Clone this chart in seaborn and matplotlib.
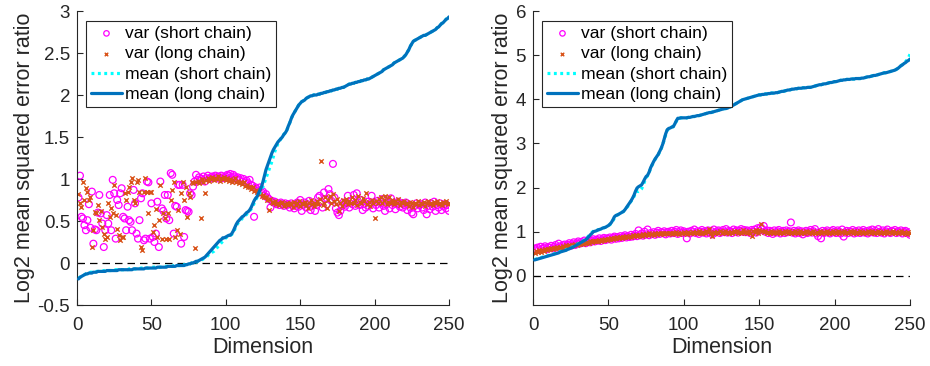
import numpy as np
import pandas as pd
import matplotlib
matplotlib.use("Agg")
import matplotlib.pyplot as plt
import seaborn as sns

# ---------------- data ----------------
dims = list(range(1, 251))

# left panel
left_var_short = [
    0.78, 1.04, 0.55, 0.53, 0.45, 0.39, 0.51, 0.70, 0.42, 0.85,
    0.23, 0.40, 0.39, 0.60, 0.81, 0.59, 0.47, 0.19, 0.39, 0.57,
    0.47, 0.81, 0.39, 0.99, 0.83, 0.29, 0.75, 0.69, 0.83, 0.89,
    0.55, 0.53, 0.39, 0.67, 0.51, 0.49, 0.39, 0.87, 0.71, 0.35,
    0.29, 0.51, 0.77, 0.83, 0.27, 0.29, 0.97, 0.96, 0.29, 0.71,
    0.31, 0.25, 0.35, 0.73, 0.19, 0.97, 0.65, 0.62, 0.81, 0.53,
    0.81, 0.51, 1.07, 1.05, 0.35, 0.68, 0.67, 0.93, 0.93, 0.23,
    0.93, 0.31, 0.63, 0.62, 0.61, 0.83, 0.81, 0.91, 0.97, 1.05,
    0.99, 1.02, 0.98, 1.00, 1.03, 0.97, 1.01, 1.04, 1.00, 1.02,
    1.03, 1.01, 1.04, 1.02, 1.03, 1.00, 1.04, 1.02, 1.01, 1.03,
    1.05, 1.04, 1.06, 1.02, 1.05, 1.03, 1.00, 1.02, 0.99, 1.01,
    0.97, 1.00, 0.96, 0.98, 0.95, 0.99, 0.93, 0.92, 0.55, 0.90,
    0.88, 0.86, 0.90, 0.84, 0.85, 0.80, 0.82, 0.78, 0.76, 0.66,
    0.74, 0.72, 0.73, 0.70, 0.71, 0.69, 0.72, 0.70, 0.68, 0.71,
    0.69, 0.70, 0.66, 0.71, 0.68, 0.65, 0.70, 0.72, 0.67, 0.75,
    0.62, 0.69, 0.72, 0.66, 0.70, 0.74, 0.63, 0.68, 0.71, 0.62,
    0.69, 0.78, 0.80, 0.73, 0.66, 0.84, 0.76, 0.70, 0.88, 0.82,
    0.74, 1.18, 0.78, 0.65, 0.60, 0.57, 0.62, 0.68, 0.72, 0.67,
    0.71, 0.80, 0.66, 0.74, 0.70, 0.81, 0.68, 0.83, 0.72, 0.69,
    0.75, 0.63, 0.70, 0.66, 0.73, 0.68, 0.71, 0.80, 0.65, 0.72,
    0.69, 0.74, 0.66, 0.71, 0.76, 0.68, 0.62, 0.70, 0.72, 0.65,
    0.77, 0.69, 0.72, 0.64, 0.70, 0.73, 0.67, 0.71, 0.66, 0.69,
    0.72, 0.63, 0.70, 0.66, 0.60, 0.58, 0.68, 0.71, 0.65, 0.69,
    0.70, 0.66, 0.63, 0.72, 0.58, 0.68, 0.64, 0.71, 0.67, 0.73,
    0.62, 0.69, 0.66, 0.71, 0.63, 0.68, 0.70, 0.65, 0.69, 0.62,
]
left_var_long = [
    0.82, 0.71, 0.67, 0.97, 0.75, 0.89, 0.85, 0.75, 0.79, 0.19,
    0.39, 0.61, 0.59, 0.69, 0.51, 0.62, 0.43, 0.35, 0.28, 0.31,
    0.71, 0.55, 0.65, 0.59, 0.93, 0.57, 0.41, 0.33, 0.27, 0.31,
    0.31, 0.83, 0.75, 0.85, 0.90, 0.97, 1.01, 0.75, 0.71, 0.96,
    0.99, 0.85, 0.19, 0.15, 0.85, 1.01, 0.85, 0.60, 0.85, 0.85,
    0.37, 0.45, 0.64, 0.31, 0.51, 0.93, 0.29, 0.59, 0.53, 0.29,
    0.59, 0.29, 0.75, 0.87, 0.97, 0.31, 0.39, 0.63, 0.35, 0.83,
    0.97, 0.75, 0.91, 0.55, 0.83, 0.78, 0.97, 0.95, 0.18, 0.96,
    0.98, 0.95, 0.54, 1.00, 0.97, 0.83, 0.99, 1.01, 0.98, 1.00,
    1.02, 0.99, 1.01, 1.00, 1.03, 0.98, 1.01, 1.00, 1.02, 0.99,
    1.01, 0.98, 1.00, 0.97, 0.99, 1.01, 0.96, 0.98, 0.95, 0.97,
    0.94, 0.96, 0.92, 0.93, 0.90, 0.91, 0.88, 0.90, 0.86, 0.87,
    0.84, 0.86, 0.82, 0.80, 0.81, 0.78, 0.79, 0.75, 0.63, 0.76,
    0.73, 0.71, 0.74, 0.70, 0.72, 0.69, 0.71, 0.73, 0.68, 0.70,
    0.72, 0.69, 0.71, 0.70, 0.67, 0.73, 0.69, 0.71, 0.74, 0.68,
    0.72, 0.70, 0.73, 0.69, 0.66, 0.71, 0.75, 0.70, 0.68, 0.72,
    0.74, 0.70, 0.76, 1.22, 0.69, 0.72, 0.78, 0.66, 0.75, 0.80,
    0.71, 0.82, 0.74, 0.70, 0.76, 0.62, 0.72, 0.68, 0.75, 0.73,
    0.76, 0.70, 0.74, 0.71, 0.78, 0.72, 0.75, 0.69, 0.80, 0.73,
    0.71, 0.77, 0.74, 0.83, 0.70, 0.73, 0.68, 0.75, 0.72, 0.54,
    0.74, 0.71, 0.76, 0.78, 0.72, 0.75, 0.80, 0.70, 0.73, 0.78,
    0.72, 0.75, 0.70, 0.74, 0.71, 0.76, 0.69, 0.73, 0.71, 0.74,
    0.70, 0.72, 0.68, 0.73, 0.71, 0.67, 0.72, 0.70, 0.74, 0.69,
    0.72, 0.70, 0.73, 0.68, 0.71, 0.74, 0.70, 0.72, 0.69, 0.73,
    0.71, 0.74, 0.70, 0.72, 0.69, 0.73, 0.71, 0.74, 0.70, 0.72,
]
left_mean_short = [
    -0.18, -0.17, -0.16, -0.15, -0.14, -0.13, -0.12, -0.12, -0.11, -0.11,
    -0.11, -0.11, -0.10, -0.10, -0.10, -0.10, -0.10, -0.09, -0.09, -0.09,
    -0.09, -0.09, -0.09, -0.09, -0.09, -0.08, -0.08, -0.08, -0.08, -0.08,
    -0.08, -0.08, -0.08, -0.08, -0.07, -0.07, -0.07, -0.07, -0.07, -0.07,
    -0.07, -0.07, -0.06, -0.06, -0.06, -0.06, -0.06, -0.06, -0.05, -0.05,
    -0.05, -0.05, -0.05, -0.05, -0.05, -0.05, -0.05, -0.04, -0.04, -0.04,
    -0.04, -0.04, -0.04, -0.04, -0.03, -0.03, -0.03, -0.03, -0.03, -0.03,
    -0.03, -0.02, -0.02, -0.02, -0.01, -0.01, 0.00, 0.00, 0.01, 0.01,
    0.02, 0.03, 0.03, 0.04, 0.05, 0.06, 0.07, 0.09, 0.11, 0.12,
    0.13, 0.14, 0.16, 0.18, 0.20, 0.22, 0.24, 0.26, 0.28, 0.30,
    0.31, 0.32, 0.33, 0.34, 0.36, 0.40, 0.44, 0.47, 0.49, 0.51,
    0.53, 0.55, 0.56, 0.58, 0.60, 0.62, 0.64, 0.67, 0.71, 0.75,
    0.78, 0.81, 0.84, 0.87, 0.91, 0.96, 1.01, 1.06, 1.11, 1.16,
    1.21, 1.27, 1.33, 1.38, 1.42, 1.45, 1.48, 1.50, 1.53, 1.55,
    1.58, 1.63, 1.67, 1.72, 1.76, 1.79, 1.82, 1.85, 1.88, 1.90,
    1.92, 1.93, 1.94, 1.96, 1.97, 1.98, 1.99, 1.99, 2.00, 2.00,
    2.00, 2.01, 2.01, 2.02, 2.02, 2.03, 2.03, 2.04, 2.04, 2.05,
    2.05, 2.06, 2.06, 2.07, 2.07, 2.08, 2.08, 2.09, 2.09, 2.10,
    2.11, 2.12, 2.13, 2.13, 2.14, 2.14, 2.15, 2.15, 2.16, 2.16,
    2.17, 2.17, 2.18, 2.18, 2.19, 2.19, 2.20, 2.21, 2.22, 2.23,
    2.24, 2.25, 2.26, 2.27, 2.28, 2.30, 2.31, 2.32, 2.33, 2.34,
    2.35, 2.36, 2.38, 2.39, 2.40, 2.41, 2.42, 2.43, 2.44, 2.46,
    2.48, 2.51, 2.54, 2.58, 2.61, 2.64, 2.65, 2.66, 2.67, 2.68,
    2.69, 2.70, 2.71, 2.71, 2.72, 2.73, 2.74, 2.75, 2.76, 2.77,
    2.78, 2.80, 2.81, 2.83, 2.85, 2.86, 2.88, 2.90, 2.92, 2.94,
]
left_mean_long = [
    -0.19, -0.17, -0.16, -0.15, -0.14, -0.13, -0.13, -0.12, -0.12, -0.12,
    -0.11, -0.11, -0.11, -0.10, -0.10, -0.10, -0.10, -0.10, -0.10, -0.09,
    -0.09, -0.09, -0.09, -0.09, -0.09, -0.09, -0.09, -0.08, -0.08, -0.08,
    -0.08, -0.08, -0.08, -0.08, -0.08, -0.08, -0.08, -0.07, -0.07, -0.07,
    -0.07, -0.07, -0.07, -0.07, -0.07, -0.06, -0.06, -0.06, -0.06, -0.06,
    -0.06, -0.06, -0.06, -0.05, -0.05, -0.05, -0.05, -0.05, -0.05, -0.05,
    -0.04, -0.04, -0.04, -0.04, -0.04, -0.04, -0.03, -0.03, -0.03, -0.03,
    -0.03, -0.03, -0.02, -0.02, -0.01, -0.01, 0.00, 0.00, 0.01, 0.02,
    0.02, 0.03, 0.04, 0.05, 0.06, 0.07, 0.09, 0.11, 0.13, 0.15,
    0.17, 0.19, 0.21, 0.23, 0.25, 0.27, 0.28, 0.30, 0.30, 0.31,
    0.32, 0.33, 0.33, 0.35, 0.38, 0.42, 0.46, 0.49, 0.51, 0.53,
    0.55, 0.56, 0.58, 0.60, 0.61, 0.63, 0.66, 0.70, 0.74, 0.77,
    0.79, 0.83, 0.87, 0.91, 0.97, 1.04, 1.11, 1.16, 1.21, 1.26,
    1.31, 1.35, 1.38, 1.41, 1.44, 1.46, 1.48, 1.50, 1.53, 1.55,
    1.58, 1.63, 1.67, 1.72, 1.76, 1.79, 1.82, 1.85, 1.88, 1.90,
    1.92, 1.93, 1.94, 1.96, 1.97, 1.98, 1.99, 1.99, 2.00, 2.00,
    2.00, 2.01, 2.01, 2.02, 2.02, 2.03, 2.03, 2.04, 2.04, 2.05,
    2.05, 2.06, 2.06, 2.07, 2.07, 2.08, 2.08, 2.09, 2.09, 2.10,
    2.11, 2.12, 2.13, 2.13, 2.14, 2.14, 2.15, 2.15, 2.16, 2.16,
    2.17, 2.17, 2.18, 2.18, 2.19, 2.19, 2.20, 2.21, 2.22, 2.23,
    2.24, 2.25, 2.26, 2.27, 2.28, 2.30, 2.31, 2.32, 2.33, 2.34,
    2.35, 2.36, 2.38, 2.39, 2.40, 2.41, 2.42, 2.43, 2.44, 2.46,
    2.48, 2.51, 2.54, 2.58, 2.61, 2.64, 2.65, 2.66, 2.67, 2.68,
    2.69, 2.70, 2.71, 2.71, 2.72, 2.73, 2.74, 2.75, 2.76, 2.77,
    2.78, 2.80, 2.81, 2.83, 2.85, 2.86, 2.88, 2.90, 2.91, 2.93,
]

# right panel
right_var_short = [
    0.62, 0.58, 0.64, 0.60, 0.66, 0.61, 0.63, 0.67, 0.60, 0.65,
    0.64, 0.68, 0.62, 0.66, 0.70, 0.64, 0.73, 0.67, 0.65, 0.69,
    0.71, 0.66, 0.70, 0.74, 0.68, 0.72, 0.76, 0.70, 0.74, 0.78,
    0.73, 0.77, 0.75, 0.80, 0.74, 0.78, 0.82, 0.76, 0.80, 0.83,
    0.78, 0.82, 0.80, 0.85, 0.79, 0.83, 0.86, 0.81, 0.85, 0.83,
    0.87, 0.82, 0.86, 0.89, 0.84, 0.88, 0.85, 0.90, 0.86, 0.89,
    0.92, 0.87, 0.90, 0.88, 0.93, 0.89, 0.91, 0.95, 0.90, 1.03,
    0.92, 0.96, 0.91, 1.00, 0.94, 1.05, 0.92, 0.97, 0.95, 0.99,
    0.93, 0.98, 1.02, 0.95, 0.99, 0.97, 1.01, 0.94, 0.99, 1.00,
    0.96, 1.02, 0.97, 1.00, 1.04, 0.95, 0.99, 1.03, 0.97, 1.01,
    0.98, 0.85, 1.00, 0.96, 1.02, 0.99, 1.05, 0.97, 1.01, 0.95,
    1.00, 1.04, 0.98, 1.01, 0.96, 1.03, 0.99, 1.02, 0.94, 1.05,
    0.98, 1.01, 1.03, 0.97, 1.00, 1.04, 0.99, 1.06, 0.98, 1.02,
    1.01, 0.97, 1.05, 1.00, 1.03, 0.98, 1.02, 1.06, 1.00, 1.04,
    0.99, 1.03, 1.01, 0.97, 1.04, 1.00, 1.05, 0.98, 1.08, 1.02,
    1.10, 1.06, 1.13, 1.00, 1.03, 0.97, 1.02, 1.00, 0.95, 1.03,
    0.98, 1.01, 1.04, 0.96, 1.00, 1.02, 0.97, 1.03, 0.99, 1.01,
    1.21, 0.98, 1.02, 0.96, 1.00, 1.03, 0.97, 1.01, 0.94, 0.99,
    1.02, 0.97, 1.00, 1.04, 0.98, 1.01, 1.06, 0.96, 0.90, 0.99,
    0.85, 1.02, 0.97, 1.00, 1.03, 0.98, 0.96, 1.01, 1.04, 0.99,
    0.97, 1.03, 1.00, 0.96, 1.05, 0.89, 0.98, 1.02, 0.97, 1.01,
    0.99, 1.04, 0.96, 1.01, 0.98, 1.03, 0.97, 1.00, 1.04, 0.98,
    1.01, 0.96, 1.03, 0.99, 1.05, 0.98, 1.02, 0.97, 1.06, 1.00,
    0.98, 1.03, 0.96, 1.01, 1.05, 0.99, 0.97, 1.02, 1.00, 1.04,
    0.97, 1.01, 0.99, 1.03, 0.96, 1.00, 1.02, 0.97, 0.99, 0.93,
]
right_var_long = [
    0.52, 0.56, 0.54, 0.58, 0.55, 0.59, 0.57, 0.60, 0.58, 0.61,
    0.60, 0.63, 0.61, 0.64, 0.62, 0.65, 0.63, 0.66, 0.64, 0.67,
    0.66, 0.69, 0.67, 0.70, 0.68, 0.71, 0.69, 0.72, 0.70, 0.73,
    0.72, 0.74, 0.73, 0.75, 0.74, 0.77, 0.75, 0.78, 0.76, 0.79,
    0.78, 0.80, 0.79, 0.81, 0.80, 0.82, 0.81, 0.83, 0.82, 0.84,
    0.83, 0.85, 0.84, 0.86, 0.85, 0.87, 0.86, 0.88, 0.85, 0.89,
    0.87, 0.90, 0.88, 0.91, 0.89, 0.92, 0.90, 0.93, 0.91, 0.92,
    0.93, 0.91, 0.94, 0.92, 0.95, 0.93, 0.96, 0.94, 0.95, 0.93,
    0.96, 0.94, 0.97, 0.95, 0.96, 0.98, 0.95, 0.97, 0.96, 0.98,
    0.97, 0.95, 0.98, 0.96, 0.99, 0.97, 0.95, 0.98, 0.96, 0.99,
    0.97, 0.95, 0.99, 0.96, 0.98, 1.00, 0.96, 0.99, 0.97, 1.01,
    0.98, 0.96, 1.00, 0.97, 1.02, 0.99, 1.06, 0.97, 0.90, 0.99,
    0.97, 1.00, 0.98, 1.01, 0.96, 0.99, 1.02, 0.97, 1.00, 0.98,
    1.00, 0.97, 1.01, 0.99, 1.02, 0.98, 1.00, 0.97, 1.03, 0.99,
    1.00, 0.98, 1.02, 0.97, 0.90, 1.01, 0.99, 1.03, 0.98, 1.05,
    1.17, 1.02, 0.99, 1.01, 0.97, 1.00, 0.98, 1.02, 0.96, 1.00,
    0.99, 0.97, 1.01, 0.98, 1.00, 0.96, 1.02, 0.99, 0.97, 1.01,
    0.98, 1.00, 0.96, 1.02, 0.99, 0.97, 1.01, 0.98, 1.00, 0.96,
    1.02, 0.99, 0.97, 1.00, 0.98, 1.01, 0.96, 1.00, 0.98, 1.02,
    0.97, 1.00, 0.99, 0.96, 1.01, 0.98, 1.00, 0.97, 1.02, 0.99,
    0.98, 1.01, 0.96, 1.00, 0.99, 1.02, 0.97, 1.00, 0.98, 1.01,
    0.99, 0.96, 1.01, 0.98, 1.00, 0.97, 1.02, 0.99, 0.98, 1.00,
    0.96, 1.01, 0.99, 0.97, 1.02, 0.98, 1.00, 0.96, 1.01, 0.99,
    0.97, 1.00, 0.98, 1.01, 0.96, 1.00, 0.99, 0.97, 1.02, 0.98,
    1.00, 0.96, 0.99, 1.01, 0.97, 1.00, 0.98, 0.95, 0.99, 0.96,
]
right_mean_short = [
    0.37, 0.38, 0.39, 0.40, 0.41, 0.42, 0.43, 0.44, 0.45, 0.46,
    0.47, 0.48, 0.49, 0.50, 0.51, 0.52, 0.53, 0.55, 0.56, 0.57,
    0.58, 0.59, 0.61, 0.62, 0.64, 0.65, 0.67, 0.69, 0.71, 0.73,
    0.75, 0.77, 0.79, 0.81, 0.84, 0.87, 0.91, 0.95, 0.98, 1.01,
    1.02, 1.03, 1.04, 1.05, 1.06, 1.07, 1.09, 1.10, 1.12, 1.14,
    1.16, 1.20, 1.25, 1.31, 1.36, 1.38, 1.40, 1.42, 1.44, 1.46,
    1.49, 1.54, 1.58, 1.63, 1.69, 1.73, 1.80, 1.88, 1.93, 1.91,
    1.93, 1.97, 2.05, 2.14, 2.22, 2.27, 2.34, 2.44, 2.51, 2.58,
    2.64, 2.69, 2.74, 2.81, 2.88, 2.97, 3.08, 3.20, 3.30, 3.33,
    3.35, 3.37, 3.38, 3.43, 3.50, 3.56, 3.57, 3.58, 3.58, 3.58,
    3.58, 3.58, 3.59, 3.59, 3.60, 3.61, 3.61, 3.62, 3.63, 3.63,
    3.64, 3.65, 3.66, 3.67, 3.68, 3.69, 3.70, 3.70, 3.71, 3.72,
    3.73, 3.74, 3.75, 3.76, 3.77, 3.78, 3.79, 3.79, 3.80, 3.82,
    3.83, 3.85, 3.87, 3.89, 3.91, 3.93, 3.95, 3.97, 3.99, 4.00,
    4.01, 4.02, 4.03, 4.04, 4.05, 4.06, 4.07, 4.08, 4.09, 4.10,
    4.10, 4.11, 4.11, 4.12, 4.12, 4.13, 4.13, 4.14, 4.14, 4.14,
    4.15, 4.15, 4.16, 4.17, 4.18, 4.18, 4.19, 4.20, 4.21, 4.21,
    4.22, 4.23, 4.23, 4.24, 4.24, 4.25, 4.25, 4.25, 4.26, 4.26,
    4.26, 4.27, 4.27, 4.27, 4.28, 4.29, 4.30, 4.31, 4.32, 4.33,
    4.33, 4.34, 4.35, 4.35, 4.36, 4.37, 4.38, 4.38, 4.39, 4.40,
    4.40, 4.41, 4.42, 4.43, 4.43, 4.44, 4.44, 4.45, 4.45, 4.45,
    4.46, 4.46, 4.46, 4.47, 4.47, 4.47, 4.47, 4.48, 4.48, 4.49,
    4.50, 4.51, 4.51, 4.52, 4.53, 4.54, 4.54, 4.55, 4.56, 4.57,
    4.58, 4.59, 4.60, 4.60, 4.61, 4.62, 4.63, 4.64, 4.65, 4.66,
    4.68, 4.70, 4.73, 4.76, 4.79, 4.82, 4.85, 4.89, 4.94, 5.02,
]
right_mean_long = [
    0.36, 0.37, 0.38, 0.39, 0.40, 0.41, 0.42, 0.43, 0.44, 0.45,
    0.46, 0.47, 0.48, 0.49, 0.50, 0.51, 0.52, 0.54, 0.55, 0.56,
    0.57, 0.58, 0.60, 0.61, 0.63, 0.64, 0.66, 0.68, 0.70, 0.72,
    0.74, 0.76, 0.78, 0.80, 0.82, 0.85, 0.89, 0.93, 0.96, 1.00,
    1.01, 1.02, 1.04, 1.05, 1.06, 1.08, 1.09, 1.10, 1.12, 1.14,
    1.17, 1.21, 1.27, 1.34, 1.37, 1.38, 1.40, 1.42, 1.44, 1.46,
    1.50, 1.55, 1.60, 1.65, 1.70, 1.76, 1.83, 1.92, 1.99, 2.02,
    2.04, 2.06, 2.12, 2.19, 2.25, 2.28, 2.35, 2.45, 2.52, 2.59,
    2.65, 2.70, 2.75, 2.82, 2.89, 2.98, 3.10, 3.22, 3.31, 3.34,
    3.35, 3.37, 3.38, 3.44, 3.51, 3.57, 3.57, 3.58, 3.58, 3.58,
    3.58, 3.58, 3.59, 3.59, 3.60, 3.61, 3.61, 3.62, 3.63, 3.63,
    3.64, 3.65, 3.66, 3.67, 3.68, 3.69, 3.70, 3.70, 3.71, 3.72,
    3.73, 3.74, 3.75, 3.76, 3.77, 3.78, 3.79, 3.79, 3.80, 3.82,
    3.83, 3.85, 3.87, 3.89, 3.91, 3.93, 3.95, 3.97, 3.99, 4.00,
    4.01, 4.02, 4.03, 4.04, 4.05, 4.06, 4.07, 4.08, 4.09, 4.10,
    4.10, 4.11, 4.11, 4.12, 4.12, 4.13, 4.13, 4.14, 4.14, 4.14,
    4.15, 4.15, 4.16, 4.17, 4.18, 4.18, 4.19, 4.20, 4.21, 4.21,
    4.22, 4.23, 4.23, 4.24, 4.24, 4.25, 4.25, 4.25, 4.26, 4.26,
    4.26, 4.27, 4.27, 4.27, 4.28, 4.29, 4.30, 4.31, 4.32, 4.33,
    4.33, 4.34, 4.35, 4.35, 4.36, 4.37, 4.38, 4.38, 4.39, 4.40,
    4.40, 4.41, 4.42, 4.43, 4.43, 4.44, 4.44, 4.45, 4.45, 4.45,
    4.46, 4.46, 4.46, 4.47, 4.47, 4.47, 4.47, 4.48, 4.48, 4.49,
    4.50, 4.51, 4.51, 4.52, 4.53, 4.54, 4.54, 4.55, 4.56, 4.57,
    4.58, 4.59, 4.60, 4.60, 4.61, 4.62, 4.63, 4.64, 4.65, 4.66,
    4.68, 4.70, 4.73, 4.76, 4.78, 4.81, 4.83, 4.86, 4.88, 4.91,
]

series_labels = ["var (short chain)", "var (long chain)",
                 "mean (short chain)", "mean (long chain)"]
x_label = "Dimension"
y_label = "Log2 mean squared error ratio"
x_ticks = [0, 50, 100, 150, 200, 250]
left_y_ticks = [-0.5, 0, 0.5, 1, 1.5, 2, 2.5, 3]
left_y_ticklabels = ["-0.5", "0", "0.5", "1", "1.5", "2", "2.5", "3"]
right_y_ticks = [0, 1, 2, 3, 4, 5, 6]
right_y_ticklabels = ["0", "1", "2", "3", "4", "5", "6"]

# ---------------- style ----------------
sns.set_theme(style="ticks")
plt.rcParams["font.family"] = ["Liberation Sans", "DejaVu Sans"]
INK = "#262626"
C_MAG = "#FF00FF"
C_ORG = "#D95319"
C_CYAN = "#00FFFF"
C_BLUE = "#0072BD"

fig = plt.figure(figsize=(9.3, 3.66), dpi=100)
ax_l = fig.add_axes([77 / 930, 1 - 305 / 366, 372 / 930, 294 / 366])
ax_r = fig.add_axes([533 / 930, 1 - 305 / 366, 377 / 930, 294 / 366])


def draw_panel(ax, var_s, var_l, mean_s, mean_l, ylim, yticks, yticklabels, leg_x):
    df = pd.DataFrame({"dim": dims, "var_s": var_s, "var_l": var_l,
                       "mean_s": mean_s, "mean_l": mean_l})
    sns.scatterplot(data=df, x="dim", y="var_s", ax=ax, marker="o", s=24,
                    facecolors="none", edgecolor=C_MAG, linewidth=0.9,
                    label=series_labels[0], zorder=2)
    sns.scatterplot(data=df, x="dim", y="var_l", ax=ax, marker="x", s=10,
                    color=C_ORG, linewidth=1.0, label=series_labels[1], zorder=2)
    sns.lineplot(data=df, x="dim", y="mean_s", ax=ax, color=C_CYAN,
                 linewidth=2.3, linestyle=(0, (0.9, 1.1)),
                 label=series_labels[2], zorder=3)
    sns.lineplot(data=df, x="dim", y="mean_l", ax=ax, color=C_BLUE,
                 linewidth=2.3, label=series_labels[3], zorder=4)
    ax.axhline(0, color="black", linewidth=0.9, dashes=(6, 4), zorder=1)

    ax.set_xlim(0, 250)
    ax.set_ylim(*ylim)
    ax.set_xticks(x_ticks)
    ax.set_xticklabels([str(t) for t in x_ticks])
    ax.set_yticks(yticks)
    ax.set_yticklabels(yticklabels)
    ax.tick_params(direction="in", length=4, width=0.8, colors=INK,
                   labelsize=13.5)
    ax.tick_params(axis="x", pad=9)
    ax.tick_params(axis="y", pad=5)
    for side in ("top", "right"):
        ax.spines[side].set_visible(False)
    for side in ("left", "bottom"):
        ax.spines[side].set_color(INK)
        ax.spines[side].set_linewidth(0.8)
    ax.set_xlabel(x_label, fontsize=15.5, color=INK, labelpad=2)
    ax.set_ylabel(y_label, fontsize=15.5, color=INK, labelpad=2)

    handles, labels = ax.get_legend_handles_labels()
    leg = ax.legend(handles, labels, loc="upper left",
                    bbox_to_anchor=(leg_x, 0.966), borderaxespad=0,
                    fontsize=12.6, frameon=True, fancybox=False,
                    edgecolor=INK, framealpha=1, handlelength=1.8,
                    handletextpad=0.15, labelspacing=0.3, borderpad=0.27,
                    markerscale=0.8)
    leg.get_frame().set_linewidth(0.8)
    for t in leg.get_texts():
        t.set_color("black")


draw_panel(ax_l, left_var_short, left_var_long, left_mean_short, left_mean_long,
           (-0.5, 3), left_y_ticks, left_y_ticklabels, 9 / 372)
draw_panel(ax_r, right_var_short, right_var_long, right_mean_short, right_mean_long,
           (-0.66, 6), right_y_ticks, right_y_ticklabels, 9 / 377)

fig.savefig("out.png", dpi=100)
